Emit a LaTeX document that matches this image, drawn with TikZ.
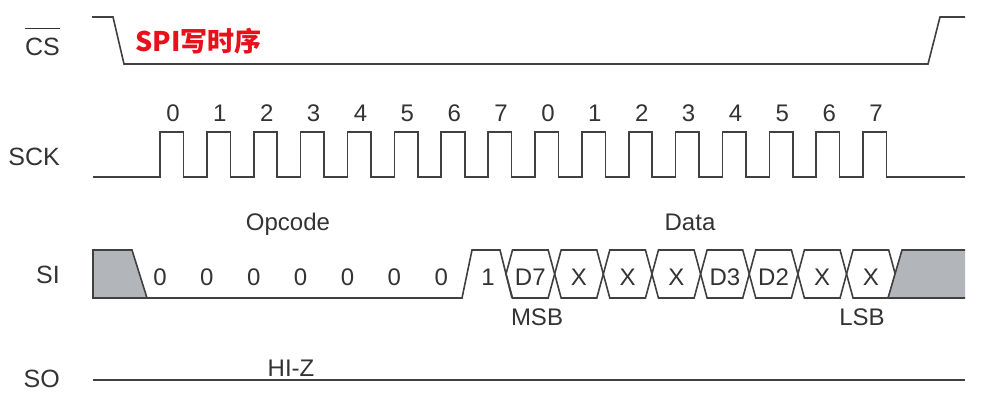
\documentclass[tikz,border=0pt]{standalone}
\usepackage{fontspec}
\setmainfont{Liberation Sans}
\newfontfamily\cjk{Noto Sans CJK SC}
\usetikzlibrary{calc}
\definecolor{wavegray}{HTML}{404040}
\definecolor{labelgray}{HTML}{333333}
\definecolor{busgray}{HTML}{B2B6BA}
\definecolor{titlered}{HTML}{E8101A}

\begin{document}
\begin{tikzpicture}[x=1pt,y=-1pt,
  sig/.style={draw=wavegray, line width=1.6pt, line join=miter},
  lbl/.style={anchor=east, inner sep=0pt, text=labelgray, font=\fontsize{25}{30}\selectfont},
  bit/.style={inner sep=0pt, text=labelgray, font=\fontsize{24}{28}\selectfont},
  busfill/.style={fill=busgray, draw=wavegray, line width=1.6pt, line join=miter},
]
\useasboundingbox (0,0) rectangle (984,402);

% Signal names (left)
\node[lbl, anchor=base east] (cs) at (60,55) {$\overline{\mbox{CS\rule{0pt}{25pt}}}$};
\node[lbl] (sck) at (60,157) {SCK};
\node[lbl] (si) at (60,275) {SI};
\node[lbl] (so) at (60,379) {SO};

% Title
\node[anchor=west, inner sep=0pt, text=titlered, font=\cjk\bfseries\fontsize{27}{32}\selectfont] (title) at (135,41) {SPI写时序};

% CS
\draw[sig] (92,17) -- (113,17) -- (124,64) -- (928,64) -- (940,17) -- (965,17);

% SCK
\draw[sig] (93,177)
  \foreach \i in {0,...,15} {-- ({160+46.87*\i},177) -- ++(0,-45) -- ++(23.5,0) -- ++(0,45)}
  -- (965,177);
\foreach \i in {0,...,15} {
  \pgfmathtruncatemacro\n{mod(\i,8)}
  \node[bit] (clk\i) at ({173+46.87*\i},113) {\n};
}

% SI
\filldraw[busfill] (93,250) -- (132,250) -- (147,298) -- (93,298) -- cycle;
\draw[sig] (147,298) -- (462,298) -- (472,250) -- (500,250) -- (512,298);
\foreach \i in {0,...,6}
  \node[bit] (op\i) at ({160+46.87*\i},277) {0};
\node[bit] (op7) at (488,277) {1};
\foreach \k/\t in {0/D7,1/X,2/X,3/X,4/D3,5/D2,6/X,7/X} {
  \pgfmathsetmacro\va{506+48.65*\k}
  \pgfmathsetmacro\vb{\va+48.65}
  \draw[sig] (\va,274) -- ({\va+6.5},250) -- ({\vb-6.5},250) -- (\vb,274)
    -- ({\vb-6.5},298) -- ({\va+6.5},298) -- cycle;
  \node[bit] (d\k) at ({(\va+\vb)/2},277) {\t};
}
\fill[busgray] (888,298) -- (902,250) -- (965,250) -- (965,298) -- cycle;
\draw[sig] (965,250) -- (902,250) -- (888,298) -- (965,298);

\node[bit] (opcode) at (288,224) {Opcode};
\node[bit] (data) at (690,222) {Data};
\node[bit] (msb) at (537,317) {MSB};
\node[bit] (lsb) at (862,317) {LSB};

% SO
\draw[sig] (93,380) -- (965,380);
\node[bit] (hiz) at (291,368) {HI-Z};
\end{tikzpicture}
\end{document}
